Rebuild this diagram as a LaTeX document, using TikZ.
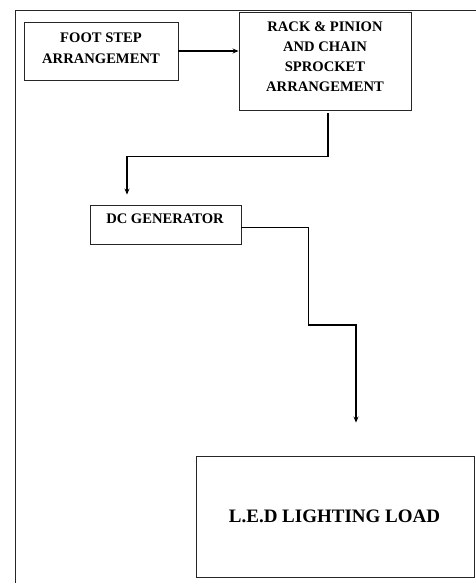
\documentclass[tikz,border=0pt]{standalone}
\usepackage{fontspec}
\setmainfont{Liberation Serif}
\usetikzlibrary{arrows.meta,calc}
\begin{document}
\begin{tikzpicture}[x=1pt,y=-1pt,
  box/.style={draw=black!85, line width=0.9pt, inner sep=0pt},
  txt/.style={align=center, inner sep=0pt, font=\fontsize{14.6}{20}\selectfont\bfseries},
  conn/.style={line width=1.6pt, -{Stealth[length=6pt,width=5pt]}}]
\useasboundingbox (0,0) rectangle (476,583);
\draw[line width=0.9pt, black!85] (15,583) -- (15,10.5) -- (476,10.5);
\node[box, minimum width=154pt, minimum height=58pt] (foot) at (101,51) {};
\node[txt, font=\fontsize{14.6}{21.5}\selectfont\bfseries] (foottxt) at (101,48.3) {FOOT STEP\\ARRANGEMENT};
\node[box, minimum width=172pt, minimum height=98pt] (rack) at (325,61) {};
\node[txt] (racktxt) at (325,57) {RACK \& PINION\\AND CHAIN\\SPROCKET\\ARRANGEMENT};
\node[box, minimum width=151pt, minimum height=39pt] (dc) at (165.5,224.5) {};
\node[txt] (dctxt) at (165,219) {DC GENERATOR};
\node[box, minimum width=278pt, minimum height=121pt] (led) at (335,516.5) {};
\node[txt, font=\fontsize{19}{22}\selectfont\bfseries] (ledtxt) at (334.5,516) {L.E.D LIGHTING LOAD};
\draw[conn] (foot.east) -- (foot.east -| rack.west);
\draw[conn] ($(rack.south)+(3,3)$) -- ++(0,43) -| ($(dc.north)+(-38.5,-10)$);
\coordinate (bend) at ($(dc.east)+(67,2.5)$);
\draw[line width=0.9pt] ($(dc.east)+(0,2.5)$) -- (bend);
\draw[conn] (bend) -- ++(0,98) -| ($(led.north)+(21,-33)$);
\end{tikzpicture}
\end{document}
